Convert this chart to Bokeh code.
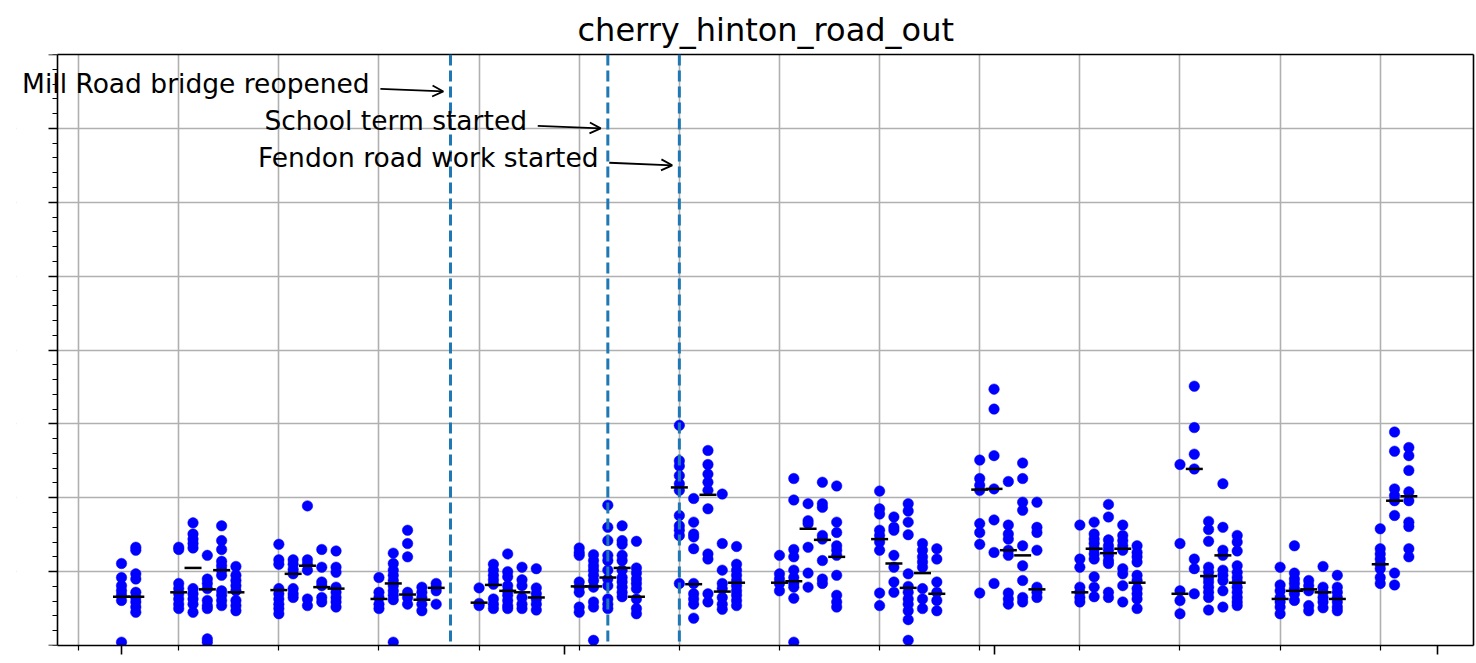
import pandas as pd
from bokeh.plotting import figure
from bokeh.models import (Range1d, FixedTicker, SingleIntervalTicker, Span, Label,
                          Arrow, OpenHead, ColumnDataSource, LinearAxis, BoxAnnotation,
                          CustomJSTickFormatter)
from bokeh.embed import file_html
from bokeh.resources import INLINE

TITLE = "cherry_hinton_road_out"

# ---------------- data ----------------
aug_dates = ["2019-08-01", "2019-08-02",
             "2019-08-05", "2019-08-06", "2019-08-07", "2019-08-08", "2019-08-09",
             "2019-08-12", "2019-08-13", "2019-08-14", "2019-08-15", "2019-08-16",
             "2019-08-19", "2019-08-20", "2019-08-21", "2019-08-22", "2019-08-23",
             "2019-08-26", "2019-08-27", "2019-08-28", "2019-08-29", "2019-08-30"]
aug_values = [
    [11.1, 9.2, 8.1, 7.4, 6.8, 6.1, 0.45],
    [13.3, 12.9, 9.7, 9.0, 7.2, 6.5, 5.9, 5.2, 4.5],
    [13.3, 13.0, 8.4, 7.7, 7.0, 6.3, 5.6, 5.0],
    [16.6, 15.1, 14.4, 13.8, 13.2, 7.7, 7.0, 6.3, 5.6, 4.5],
    [12.2, 9.0, 8.4, 7.7, 6.1, 5.4, 5.0, 0.9, 0.45],
    [16.2, 14.2, 13.0, 11.4, 10.8, 10.2, 9.5, 7.4, 6.8, 6.1, 5.4],
    [10.7, 9.5, 8.8, 8.1, 7.4, 6.1, 5.4, 4.7],
    [13.7, 11.6, 11.0, 7.7, 7.0, 6.3, 5.6, 5.0, 4.3],
    [11.6, 11.0, 10.3, 9.7, 7.7, 7.0, 6.5],
    [18.9, 11.6, 11.0, 10.2, 6.3, 5.4],
    [13.0, 10.6, 8.6, 8.1, 6.5, 5.9],
    [12.8, 10.6, 9.9, 7.9, 7.2, 6.5, 5.9, 5.2],
    [9.2, 7.2, 6.5, 5.6, 5.0],
    [12.5, 11.1, 10.2, 9.5, 8.8, 8.1, 7.4, 6.8, 6.2, 0.45],
    [15.6, 13.8, 12.0, 7.2, 6.5, 5.6],
    [7.9, 7.2, 6.5, 5.6, 4.7],
    [8.4, 7.9, 7.4, 5.6],
    [7.8, 5.7, 5.4],
    [11.0, 10.2, 9.5, 8.9, 8.3, 6.3, 5.6, 5.0],
    [12.4, 10.0, 9.3, 8.1, 7.4, 6.8, 6.1, 5.4, 5.0],
    [10.6, 8.9, 8.1, 6.5, 5.6, 5.0],
    [10.4, 7.8, 7.0, 6.3, 5.6, 4.8],
]
aug_medians = [6.6, 6.6, 7.2, 10.5, 7.6, 10.2, 7.2, 7.5, 9.7, 10.8, 7.9, 7.7,
               6.3, 8.4, 6.9, 6.2, 7.8, 5.8, 8.2, 7.4, 7.2, 6.5]

sep_dates = ["2019-09-02", "2019-09-03", "2019-09-04", "2019-09-05", "2019-09-06",
             "2019-09-09", "2019-09-10", "2019-09-11", "2019-09-12", "2019-09-13",
             "2019-09-16", "2019-09-17", "2019-09-18", "2019-09-19", "2019-09-20",
             "2019-09-23", "2019-09-24", "2019-09-25", "2019-09-26", "2019-09-27",
             "2019-09-30"]
sep_values = [
    [13.2, 12.6, 12.2, 8.6, 7.9, 7.2, 5.2, 4.5],
    [12.3, 11.5, 10.8, 10.2, 9.5, 8.8, 7.9, 5.9, 5.2, 0.7],
    [19.0, 16.0, 14.2, 12.2, 11.5, 10.2, 9.0, 8.1, 6.3, 5.6, 5.0],
    [16.2, 14.2, 13.7, 12.2, 11.5, 10.2, 9.2, 8.6, 7.9, 7.2, 6.6],
    [14.1, 10.5, 9.8, 9.0, 8.4, 7.7, 6.3, 5.0, 4.3],
    [29.8, 25.0, 24.3, 23.0, 21.9, 21.0, 17.6, 16.2, 15.6, 14.9, 8.4],
    [19.9, 16.7, 15.1, 14.7, 13.1, 8.4, 7.0, 6.3, 5.6, 3.7],
    [26.4, 24.5, 23.2, 22.1, 21.0, 18.5, 12.4, 11.7, 7.0, 5.9],
    [20.5, 13.8, 10.2, 8.4, 7.7, 6.5, 5.6, 4.9],
    [13.4, 11.0, 10.2, 9.5, 8.8, 8.1, 7.4, 6.8, 6.1, 5.4],
    [12.2, 9.7, 9.0, 8.4, 7.4],
    [22.6, 19.7, 13.0, 12.0, 10.2, 9.2, 8.4, 7.9, 6.4, 0.45],
    [19.2, 16.9, 16.5, 13.3, 9.8, 7.9],
    [22.1, 19.2, 18.7, 14.9, 14.4, 11.5, 9.0, 8.4],
    [21.6, 16.7, 15.3, 13.5, 12.9, 12.2, 9.5, 6.8, 5.9, 5.2],
    [20.9, 18.5, 17.8, 15.6, 14.9, 14.0, 12.9, 7.1, 5.4],
    [17.4, 16.0, 15.6, 12.2, 10.6, 8.6, 7.2],
    [19.2, 18.2, 16.7, 15.0, 9.7, 8.0, 7.2, 6.3, 5.6, 4.7, 3.5, 0.7],
    [13.8, 12.9, 12.0, 11.3, 10.6, 7.7, 6.3, 5.0],
    [13.1, 11.7, 8.6, 7.2, 6.1, 4.7],
    [25.1, 22.6, 21.7, 21.0, 16.5, 15.3, 13.7, 7.1],
]
sep_medians = [8.0, 8.0, 9.2, 10.5, 6.6, 21.4, 8.3, 20.4, 7.3, 8.5,
               8.5, 8.7, 15.8, 14.3, 12.0, 14.4, 11.1, 7.8, 9.8, 7.0, 21.1]

oct_dates = ["2019-10-01", "2019-10-02", "2019-10-03", "2019-10-04",
             "2019-10-07", "2019-10-08", "2019-10-09", "2019-10-10", "2019-10-11",
             "2019-10-14", "2019-10-15", "2019-10-16", "2019-10-17", "2019-10-18",
             "2019-10-21", "2019-10-22", "2019-10-23", "2019-10-24", "2019-10-25",
             "2019-10-28", "2019-10-29", "2019-10-30"]
oct_values = [
    [34.7, 32.0, 25.7, 21.2, 17.0, 12.6, 8.4],
    [22.2, 16.3, 15.1, 14.4, 12.9, 12.2, 7.1, 6.3, 5.6],
    [24.7, 22.6, 19.4, 18.3, 13.5, 10.8, 8.8, 6.5, 5.9],
    [19.4, 16.0, 15.3, 12.9, 7.9, 7.2, 6.5],
    [16.3, 11.7, 10.6, 7.9, 7.2, 6.5, 5.9],
    [16.7, 15.1, 14.4, 13.8, 13.1, 12.4, 11.7, 9.3, 7.9, 6.6],
    [19.1, 17.4, 14.3, 13.5, 12.9, 12.2, 11.5, 11.1, 7.2, 6.5],
    [16.3, 14.9, 14.2, 13.5, 12.9, 10.4, 9.7, 8.1, 5.9],
    [13.5, 12.6, 12.0, 11.3, 9.5, 8.8, 7.7, 7.0, 6.3, 5.0],
    [24.5, 13.8, 7.4, 6.1, 4.3],
    [35.1, 29.5, 25.9, 23.9, 11.7, 10.4, 7.0],
    [16.8, 15.7, 14.1, 10.6, 9.9, 9.2, 8.6, 7.9, 7.2, 6.5, 4.8],
    [21.9, 16.0, 12.9, 12.2, 10.2, 9.5, 8.8, 7.4, 5.2],
    [14.9, 14.0, 12.8, 10.8, 9.9, 9.2, 8.6, 7.9, 7.2, 6.5, 5.9, 5.4],
    [10.6, 8.2, 7.4, 6.5, 5.9, 5.2, 4.3],
    [13.5, 9.8, 9.0, 8.4, 7.7, 7.0, 6.1],
    [8.8, 8.1, 7.4, 5.4, 4.7],
    [10.7, 7.9, 7.2, 6.5, 5.9, 5.1],
    [9.5, 7.9, 7.2, 6.5, 5.9, 5.2, 4.7],
    [15.8, 13.1, 12.4, 11.7, 11.0, 10.4, 9.2, 8.4],
    [28.9, 26.3, 21.2, 20.3, 19.6, 17.6, 9.8, 8.2],
    [26.8, 25.7, 23.7, 20.8, 19.6, 16.7, 16.1, 13.1, 12.0],
]
oct_medians = [21.2, 12.9, 12.2, 7.6, 7.2, 13.1, 12.5, 13.1, 8.5, 7.0, 23.9,
               9.4, 12.2, 8.5, 6.3, 7.4, 7.6, 7.2, 6.3, 11.0, 19.6, 20.2]

event_labels = ["Mill Road bridge reopened", "School term started", "Fendon road work started"]
event_dates = ["2019-08-24", "2019-09-04", "2019-09-09"]
event_levels = [75, 70, 65]

month_ticks = ["2019-08-01", "2019-09-01", "2019-10-01", "2019-11-01"]

# ---------------- build ----------------
def ms(ts):
    return pd.Timestamp(ts).value / 1e6

DAY = 86400000.0

dates = aug_dates + sep_dates + oct_dates
values = aug_values + sep_values + oct_values
medians = aug_medians + sep_medians + oct_medians

pts_x, pts_y = [], []
for d, vals in zip(dates, values):
    for v in vals:
        pts_x.append(pd.Timestamp(d))
        pts_y.append(v)
pts = ColumnDataSource(dict(x=pts_x, y=pts_y))
med = ColumnDataSource(dict(x=[pd.Timestamp(d) for d in dates], y=medians))

# The frame is widened to the left so that the first annotation (which runs past the
# y axis in the reference) is not clipped; the y axis is drawn at a fixed location.
x0 = ms("2019-08-01") - 7.341 * DAY          # frame edge (hidden)
x_axis_pos = ms("2019-08-01") - 4.474 * DAY  # visible left spine
x1 = ms("2019-08-01") + 94.52 * DAY

p = figure(width=1476, height=663, x_axis_type="datetime",
           output_backend="svg", toolbar_location=None,
           x_range=Range1d(x0, x1), y_range=Range1d(0, 80),
           min_border_left=16, min_border_right=3, min_border_top=54,
           min_border_bottom=18)

bottom_ax = p.below[0]
left_ax = p.left[0]

p.title.text = TITLE
p.title.align = "left"
p.title.text_font = "DejaVu Sans"
p.title.text_font_size = "32px"
p.title.text_font_style = "normal"
p.title.text_color = "black"
p.title.standoff = 11
p.title.offset = 561

# ticks
mondays = [ms(t) for t in pd.date_range("2019-07-22", "2019-11-11", freq="W-MON")]
bottom_ax.ticker = FixedTicker(ticks=[ms(t) for t in month_ticks], minor_ticks=mondays)
left_ax.ticker = SingleIntervalTicker(interval=10, num_minor_ticks=5)
bottom_ax.bounds = (x_axis_pos, x1)
left_ax.fixed_location = x_axis_pos

# top and right spines as bare axes
top_ax = LinearAxis(ticker=FixedTicker(ticks=[]), bounds=(x_axis_pos, x1))
right_ax = LinearAxis(ticker=FixedTicker(ticks=[]))
p.add_layout(top_ax, "above")
p.add_layout(right_ax, "right")

blank = CustomJSTickFormatter(code="return ''")
for ax in (bottom_ax, left_ax, top_ax, right_ax):
    ax.formatter = blank
    ax.major_label_text_font_size = "1px"
    ax.major_label_text_color = None
    ax.major_label_standoff = 0
    ax.axis_line_color = "black"
    ax.axis_line_width = 1.6
    ax.major_tick_line_color = "black"
    ax.minor_tick_line_color = "black"
    ax.major_tick_line_width = 1.6
    ax.minor_tick_line_width = 1.2
    ax.major_tick_in = 0
    ax.minor_tick_in = 0
for ax in (top_ax, right_ax):
    ax.major_tick_out = 0
    ax.minor_tick_out = 0
    ax.major_tick_line_color = None
    ax.minor_tick_line_color = None
bottom_ax.major_tick_out = 9
bottom_ax.minor_tick_out = 5
left_ax.major_tick_out = 9
left_ax.minor_tick_out = 5

p.xgrid.grid_line_color = None
p.xgrid.minor_grid_line_color = "#b0b0b0"
p.xgrid.minor_grid_line_width = 1.6
p.ygrid.grid_line_color = "#b0b0b0"
p.ygrid.grid_line_width = 1.6

p.outline_line_color = None
p.background_fill_color = "white"
p.border_fill_color = "white"

# hide the grid left of the visible spine
p.add_layout(BoxAnnotation(right=x_axis_pos, fill_color="white", fill_alpha=1.0,
                           line_color=None, level="glyph"))

# points and medians
p.scatter("x", "y", source=pts, size=10.5, fill_color="#0000ff", line_color="#0000ff",
          line_width=0.5)
mr = p.scatter("x", "y", source=med, marker="dash", size=17, line_color="black",
               line_width=2.5)
mr.level = "overlay"

# events
for lab, d, lvl in zip(event_labels, event_dates, event_levels):
    xd = ms(d)
    p.add_layout(Span(location=xd, dimension="height", line_color="#1f77b4",
                      line_width=3, line_dash="11 5"))
    p.add_layout(Label(x=xd - 5.65 * DAY, y=lvl + 1.1, text=lab, text_align="right",
                       text_baseline="middle", text_font="DejaVu Sans",
                       text_font_size="26.5px", text_color="black", level="overlay"))
    p.add_layout(Arrow(end=OpenHead(size=11, line_width=1.8, line_color="black"),
                       x_start=xd - 4.9 * DAY, y_start=lvl + 0.35,
                       x_end=xd - 0.5 * DAY, y_end=lvl,
                       line_width=1.8, line_color="black"))

open("out.html", "w").write(file_html(p, INLINE))
